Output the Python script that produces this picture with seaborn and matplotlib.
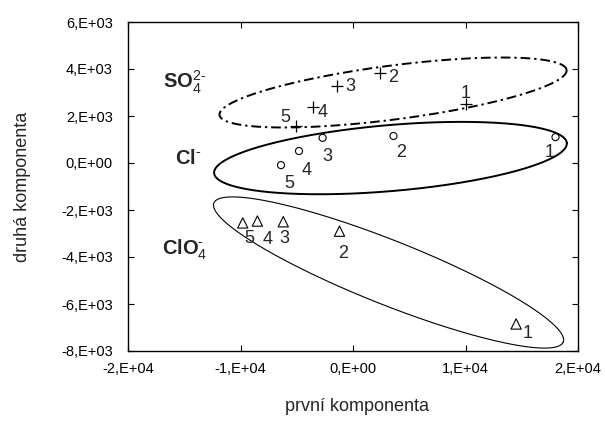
import numpy as np
import pandas as pd
import matplotlib
matplotlib.use('Agg')
import matplotlib.pyplot as plt
import seaborn as sns
from matplotlib.ticker import FuncFormatter

# --- data ---
point_labels = ['1', '2', '3', '4', '5']

so4_x = [1.0e4, 2.4e3, -1.4e3, -3.6e3, -5.1e3]
so4_y = [2.50e3, 3.83e3, 3.28e3, 2.38e3, 1.57e3]

cl_x = [1.80e4, 3.6e3, -2.7e3, -4.8e3, -6.4e3]
cl_y = [1.10e3, 1.15e3, 1.07e3, 0.51e3, -0.09e3]

clo4_x = [1.45e4, -1.2e3, -6.2e3, -8.5e3, -9.8e3]
clo4_y = [-6.85e3, -2.90e3, -2.50e3, -2.47e3, -2.55e3]

group_names = ['SO4', 'Cl', 'ClO4']
group_titles = [r'$\mathbf{SO}_{4}^{2\text{-}}$', r'$\mathbf{Cl}^{\text{-}}$',
                r'$\mathbf{ClO}_{4}^{\text{-}}$']

# ellipse centres (data units)
ell_cx = [3.56e3, 3.33e3, 3.16e3]
ell_cy = [3.00e3, 0.21e3, -4.66e3]

x_ticks = [-2e4, -1e4, 0, 1e4, 2e4]
y_ticks = [-8e3, -6e3, -4e3, -2e3, 0, 2e3, 4e3, 6e3]

# --- styles / positions ---
ell_a_px = [175, 177, 188]
ell_b_px = [27, 33, 32]
ell_ang = [7.4, 4.9, -21.7]
ell_ls = [(0, (5, 2, 1.2, 2)), '-', '-']
ell_lw = [1.4, 1.4, 0.8]

label_offsets = {
    'SO4': [(0, 11), (13, -5), (13, -1), (10, -5), (-10, 9)],
    'Cl': [(-6, -15), (8, -17), (5, -19), (8, -19), (8, -18)],
    'ClO4': [(11, -10), (4, -22), (1, -17), (10, -18), (7, -16)],
}
title_pos = [(0.078, 0.80), (0.104, 0.568), (0.076, 0.292)]

df = pd.DataFrame({
    'x': so4_x + cl_x + clo4_x,
    'y': so4_y + cl_y + clo4_y,
    'skupina': ['SO4'] * 5 + ['Cl'] * 5 + ['ClO4'] * 5,
    'popis': point_labels * 3,
})

sns.set_style('ticks')
plt.rcParams['font.family'] = ['Liberation Sans', 'DejaVu Sans']
plt.rcParams['mathtext.fontset'] = 'custom'
plt.rcParams['mathtext.rm'] = 'Liberation Sans'
plt.rcParams['mathtext.bf'] = 'Liberation Sans:bold'
plt.rcParams['mathtext.it'] = 'Liberation Sans'

fig = plt.figure(figsize=(6.05, 4.30), dpi=100)
ax = fig.add_axes([128 / 605, 1 - 351 / 430, 450 / 605, 329 / 430])

# markers, one call per group (seaborn does not mix + with filled markers)
sns.scatterplot(data=df[df['skupina'] == 'SO4'], x='x', y='y', marker='+',
                s=70, color='black', linewidth=0.9, ax=ax, legend=False)
sns.scatterplot(data=df[df['skupina'] == 'Cl'], x='x', y='y', marker='o',
                s=26, facecolor='none', edgecolor='black', linewidth=0.8,
                ax=ax, legend=False)
sns.scatterplot(data=df[df['skupina'] == 'ClO4'], x='x', y='y', marker='^',
                s=55, facecolor='none', edgecolor='black', linewidth=0.8,
                ax=ax, legend=False)

ax.set_xlim(-2e4, 2e4)
ax.set_ylim(-8e3, 6e3)

# ellipses drawn in pixel-like space then mapped back to data
sx = 450 / 4e4
sy = 329 / 1.4e4
t = np.linspace(0, 2 * np.pi, 400)
for i in range(3):
    th = np.deg2rad(ell_ang[i])
    px = ell_a_px[i] * np.cos(t) * np.cos(th) - ell_b_px[i] * np.sin(t) * np.sin(th)
    py = ell_a_px[i] * np.cos(t) * np.sin(th) + ell_b_px[i] * np.sin(t) * np.cos(th)
    ax.plot(ell_cx[i] + px / sx, ell_cy[i] + py / sy, color='black',
            linestyle=ell_ls[i], linewidth=ell_lw[i])

# point numbers
for g in group_names:
    sub = df[df['skupina'] == g].reset_index(drop=True)
    for j, row in sub.iterrows():
        ax.annotate(row['popis'], (row['x'], row['y']),
                    xytext=label_offsets[g][j], textcoords='offset pixels',
                    ha='center', va='center', fontsize=13)

# group names
for i in range(3):
    ax.text(title_pos[i][0], title_pos[i][1], group_titles[i],
            transform=ax.transAxes, fontsize=14.5, ha='left', va='baseline')

def exp_fmt(v, pos):
    if v == 0:
        return '0,E+00'
    e = int(np.floor(np.log10(abs(v))))
    m = int(round(v / 10 ** e))
    return f'{m},E+{e:02d}'

ax.set_xticks(x_ticks)
ax.set_yticks(y_ticks)
ax.xaxis.set_major_formatter(FuncFormatter(exp_fmt))
ax.yaxis.set_major_formatter(FuncFormatter(exp_fmt))
ax.tick_params(direction='in', length=4, width=0.8, top=True, right=True,
               labelsize=10.5, colors='black')
ax.tick_params(axis='x', pad=8)
ax.tick_params(axis='y', pad=11)
for sp in ax.spines.values():
    sp.set_linewidth(1.0)
    sp.set_color('black')

ax.set_xlabel('první komponenta', fontsize=13)
ax.set_ylabel('druhá komponenta', fontsize=13)
ax.xaxis.set_label_coords(0.509, -0.143)
ax.yaxis.set_label_coords(-0.216, 0.5)

fig.savefig('out.png', dpi=100)
